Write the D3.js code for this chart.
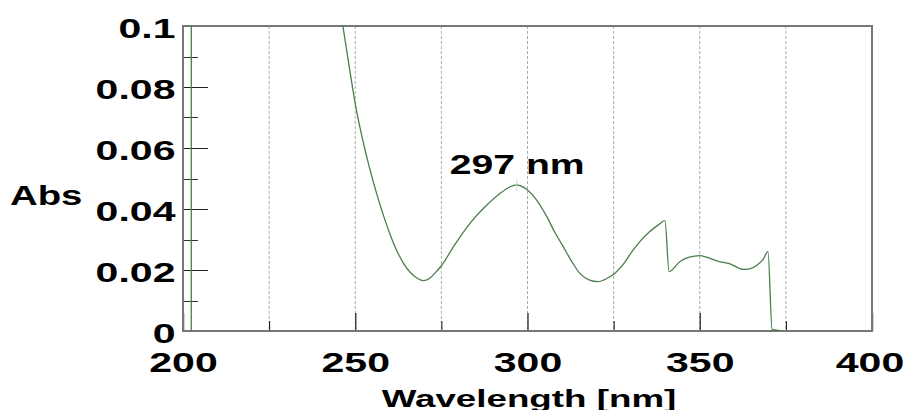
<!DOCTYPE html>
<html>
<head>
<meta charset="utf-8">
<script src="https://cdn.jsdelivr.net/npm/d3@7"></script>
<style>
  body { margin: 0; background: #fff; }
  svg { display: block; }
  text { font-family: "Liberation Sans", Arial, sans-serif; font-weight: bold; fill: #000; }
</style>
</head>
<body>
<svg width="906" height="410"></svg>
<script>
// spectrum: wavelength (nm) and absorbance
const wavelengths = [202.4, 202.5, 243, 246.4, 248, 250, 252, 254.3, 256.3, 258.3, 260, 262, 264, 266, 268, 269.8, 271.5, 273, 275, 279,
    283.3, 288.2, 292, 295, 296.9, 299, 300, 302.6, 305.6, 308, 310.4, 313, 315.2, 318, 320.5, 323, 325, 328,
    330.7, 333, 335.5, 338, 339.9, 341.1, 344.3, 347, 350, 352, 354.9, 358.8, 362.6, 364.5, 366.5, 368.4,
    369.8, 371, 373.8];
const absorbance = [0, 1.2, 0.122, 0.1, 0.0885, 0.0745, 0.0635, 0.0528, 0.0447, 0.0375, 0.032, 0.0265, 0.0222, 0.0192, 0.0173, 0.0165, 0.0172, 0.0188, 0.0214, 0.0285,
    0.0353, 0.0413, 0.0451, 0.0473, 0.0479, 0.047, 0.0462, 0.043, 0.0375, 0.0322, 0.0276, 0.0225, 0.0189, 0.0167, 0.0162, 0.0172, 0.0186, 0.0222,
    0.0266, 0.0298, 0.0326, 0.0348, 0.0362, 0.0195, 0.0228, 0.0242, 0.0247, 0.0242, 0.023, 0.022, 0.0202, 0.0204, 0.0215, 0.0235,
    0.026, 0.0005, 0];

const xTicks = [200, 250, 300, 350, 400];
const xTickLabels = ['200', '250', '300', '350', '400'];
const xMinorTicks = [225, 275, 325, 375];
const gridLines = [225, 250, 275, 300, 325, 350, 375];
const yTicks = [0, 0.02, 0.04, 0.06, 0.08, 0.1];
const yTickLabels = ['0', '0.02', '0.04', '0.06', '0.08', '0.1'];
const yMinorTicks = [0.01, 0.03, 0.05, 0.07, 0.09];
const peakWavelength = 297;
const peakLabel = '297 nm';

const svg = d3.select('svg');
const width = +svg.attr('width');

const margin = { top: 26, left: 183, right: 34, bottom: 79 };
const innerWidth = width - margin.left - margin.right;
const innerHeight = +svg.attr('height') - margin.top - margin.bottom;

// the reference text is stretched sideways: widen glyphs with textLength
const widen = (sel, k) => sel.each(function () {
    const len = this.getComputedTextLength();
    d3.select(this).attr('textLength', len * k).attr('lengthAdjust', 'spacingAndGlyphs');
});

const xScale = d3.scaleLinear().domain([200, 400]).range([0, innerWidth]);
const yScale = d3.scaleLinear().domain([0, 0.1]).range([innerHeight, 0]);

const g = svg.append('g')
    .attr('transform', `translate(${margin.left}, ${margin.top})`);

svg.append('defs').append('clipPath')
    .attr('id', 'plot-clip')
    .append('rect')
    .attr('width', innerWidth)
    .attr('height', innerHeight);

// dashed vertical grid
g.selectAll('.grid')
    .data(gridLines)
    .enter()
    .append('line')
    .attr('class', 'grid')
    .attr('x1', (d) => xScale(d))
    .attr('x2', (d) => xScale(d))
    .attr('y1', 0)
    .attr('y2', innerHeight)
    .attr('stroke', '#aaa')
    .attr('stroke-dasharray', '3,2');

// y axis labels on the left
const yAxisG = g.append('g')
    .call(d3.axisLeft(yScale).tickValues(yTicks).tickSize(0).tickFormat((d, i) => yTickLabels[i]));
yAxisG.select('.domain').remove();
yAxisG.selectAll('.tick text')
    .attr('x', -7.5)
    .attr('y', 11.5)
    .attr('dy', null)
    .attr('text-anchor', 'end')
    .style('font-size', '27px')
    .call(widen, 1.52);

// y ticks point into the plot: long at 0.02 steps, short between
g.selectAll('.y-major')
    .data(yTicks)
    .enter()
    .append('line')
    .attr('class', 'y-major')
    .attr('x1', 0)
    .attr('x2', 25)
    .attr('y1', (d) => Math.round(yScale(d)) + 0.5)
    .attr('y2', (d) => Math.round(yScale(d)) + 0.5)
    .attr('stroke', '#222');

g.selectAll('.y-minor')
    .data(yMinorTicks)
    .enter()
    .append('line')
    .attr('class', 'y-minor')
    .attr('x1', 0)
    .attr('x2', 15)
    .attr('y1', (d) => Math.round(yScale(d)) + 0.5)
    .attr('y2', (d) => Math.round(yScale(d)) + 0.5)
    .attr('stroke', '#333');

// x axis
const xAxisG = g.append('g')
    .attr('transform', `translate(0, ${innerHeight})`)
    .call(d3.axisBottom(xScale).tickValues(xTicks).tickSize(-18).tickFormat((d, i) => xTickLabels[i]));
xAxisG.select('.domain').remove();
xAxisG.selectAll('.tick line').attr('stroke', '#444').attr('stroke-width', 1.5);
xAxisG.selectAll('.tick text')
    .attr('x', (d) => (d === 400 ? -2.5 : 0))
    .attr('y', 41)
    .attr('dy', null)
    .style('font-size', '27px')
    .call(widen, 1.52);

const xMinorG = g.append('g')
    .attr('transform', `translate(0, ${innerHeight})`)
    .call(d3.axisBottom(xScale).tickValues(xMinorTicks).tickSize(-10).tickFormat(''));
xMinorG.select('.domain').remove();
xMinorG.selectAll('.tick line').attr('stroke', '#111');

// plot frame
g.append('rect')
    .attr('width', innerWidth)
    .attr('height', innerHeight)
    .attr('fill', 'none')
    .attr('stroke', '#777')
    .attr('stroke-width', 2);

// spectrum
const data = wavelengths.map((w, i) => ({ w, a: absorbance[i] }));
const line = d3.line()
    .x((d) => xScale(d.w))
    .y((d) => yScale(d.a))
    .curve(d3.curveMonotoneX);

g.append('path')
    .datum(data)
    .attr('clip-path', 'url(#plot-clip)')
    .attr('d', line)
    .attr('fill', 'none')
    .attr('stroke', '#4c7d4c')
    .attr('stroke-width', 1.3);

// peak marker and label
const peak = data.reduce((m, d) => (Math.abs(d.w - peakWavelength) < Math.abs(m.w - peakWavelength) ? d : m));
g.append('line')
    .attr('x1', xScale(peak.w))
    .attr('x2', xScale(peak.w))
    .attr('y1', yScale(peak.a) - 5)
    .attr('y2', yScale(peak.a) + 6)
    .attr('stroke', '#c8d8c8');

g.append('text')
    .attr('text-anchor', 'middle')
    .attr('x', xScale(peakWavelength))
    .attr('y', yScale(peak.a) - 11)
    .style('font-size', '27px')
    .text(peakLabel)
    .call(widen, 1.45);

// axis titles
svg.append('text')
    .attr('x', 10)
    .attr('y', 205)
    .style('font-size', '27px')
    .text('Abs')
    .call(widen, 1.42);

svg.append('text')
    .attr('text-anchor', 'middle')
    .attr('x', margin.left + innerWidth / 2 + 1.5)
    .attr('y', 406.5)
    .style('font-size', '24.5px')
    .text('Wavelength [nm]')
    .call(widen, 1.5);
</script>
</body>
</html>
